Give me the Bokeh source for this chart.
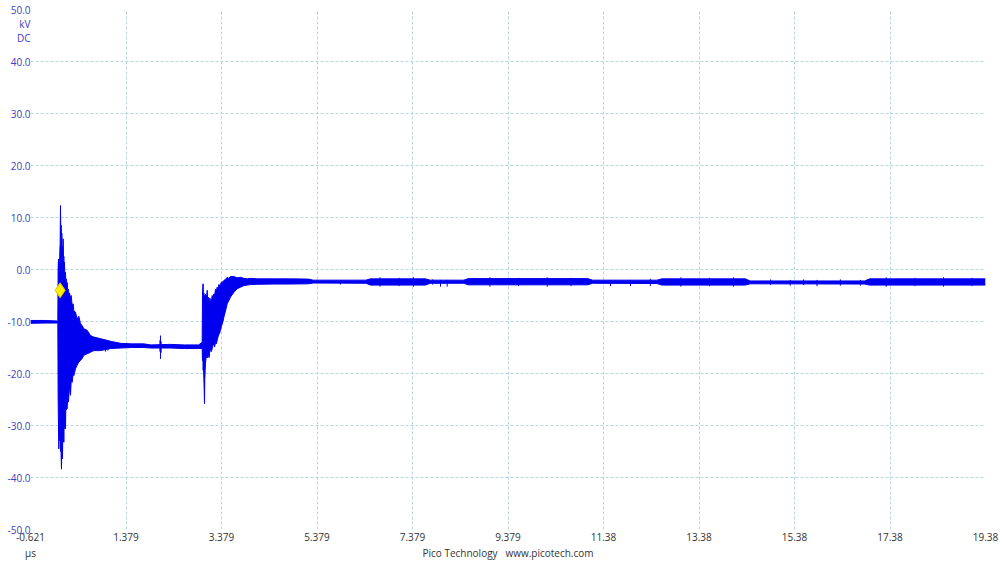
from bokeh.plotting import figure
from bokeh.models import FixedTicker, PrintfTickFormatter, ColumnDataSource, Range1d, LinearAxis
from bokeh.embed import file_html
from bokeh.resources import INLINE

# ---------------- data (time in µs, voltage in kV) ----------------
x_ticks = [-0.621, 1.379, 3.379, 5.379, 7.379, 9.379, 11.379, 13.379, 15.379, 17.379, 19.379]
x_tick_labels = ["-0.621", "1.379", "3.379", "5.379", "7.379", "9.379",
                 "11.38", "13.38", "15.38", "17.38", "19.38"]
y_ticks = [-50, -40, -30, -20, -10, 0, 10, 20, 30, 40, 50]
y_unit_pos = [47.3, 44.6]
y_unit_labels = ["kV", "DC"]
x_unit_label = "µs"
footer_text = "Pico Technology\u00a0\u00a0\u00a0www.picotech.com"

# pre-trigger baseline
pre_t = [-0.621, -0.3, -0.056]
pre_hi = [-9.8, -9.8, -9.9]
pre_lo = [-10.35, -10.3, -10.3]

# first burst (ringing after trigger)
burst_t = [-0.049, -0.042, -0.035, -0.028, -0.021, -0.014, -0.007, 0.000, 0.007, 0.014,
           0.021, 0.028, 0.035, 0.042, 0.049, 0.056, 0.063, 0.070, 0.077, 0.084,
           0.091, 0.098, 0.105, 0.112, 0.119, 0.126, 0.133, 0.147, 0.161, 0.175,
           0.182, 0.196, 0.217, 0.231, 0.252, 0.273, 0.287, 0.321, 0.356, 0.391,
           0.426, 0.461, 0.496, 0.566, 0.636, 0.705, 0.845, 1.055, 1.264]
burst_hi = [-9.8, 0.5, 2.0, -1.0, 1.5, 0.0, 3.5, 5.0, 12.3, 6.5,
            8.5, 4.0, 7.0, 3.0, 4.5, 2.0, 5.9, 1.0, 2.5, 0.0,
            1.4, -1.5, -0.5, -0.6, -2.5, -1.8, -3.0, -2.5, -4.2, -3.8,
            -5.0, -4.5, -5.5, -5.0, -6.9, -6.6, -8.0, -8.2, -9.5, -9.0,
            -10.4, -10.8, -11.4, -11.7, -12.7, -13.0, -13.3, -13.8, -14.2]
burst_lo = [-10.3, -25.0, -30.0, -34.5, -29.0, -31.0, -33.0, -30.0, -35.0, -32.0,
            -36.0, -38.4, -33.0, -35.2, -36.4, -31.0, -33.2, -30.0, -33.2, -28.0,
            -30.6, -27.0, -29.0, -30.6, -26.0, -27.0, -26.8, -26.8, -24.0, -25.5,
            -24.2, -22.6, -24.2, -21.5, -21.7, -20.0, -20.4, -19.1, -18.4, -17.8,
            -17.5, -17.1, -16.5, -16.2, -15.9, -15.6, -15.6, -15.2, -15.1]

# plateau at about -15 kV
flat_t = [1.5, 1.75, 1.9, 2.3, 2.6, 2.9]
flat_hi = [-14.3, -14.3, -14.5, -14.4, -14.5, -14.5]
flat_lo = [-15.0, -15.0, -15.1, -15.1, -15.2, -15.2]

# second burst and recovery
b2_t = [2.974, 2.981, 2.988, 2.995, 3.002, 3.009, 3.016, 3.023, 3.030, 3.037,
        3.044, 3.051, 3.058, 3.065, 3.079, 3.093, 3.107, 3.121, 3.135, 3.149,
        3.163, 3.183, 3.200, 3.218, 3.235, 3.253, 3.270, 3.288, 3.305, 3.323,
        3.340, 3.358, 3.375, 3.393, 3.410, 3.428, 3.463, 3.498, 3.532, 3.567,
        3.637, 3.707, 3.777, 3.847, 3.917, 3.986, 4.126, 4.475]
b2_hi = [-14.0, -5.0, -3.0, -2.75, -6.0, -4.5, -7.0, -5.0, -8.0, -5.5,
         -4.7, -7.0, -5.0, -6.0, -4.0, -6.5, -5.3, -7.0, -5.5, -5.96,
         -6.5, -5.0, -5.5, -4.7, -5.0, -3.8, -4.2, -3.4, -3.8, -2.9,
         -3.2, -2.75, -2.5, -2.3, -2.6, -2.1, -1.9, -1.5, -1.7, -1.35,
         -1.35, -1.6, -1.5, -1.7, -1.8, -1.7, -1.8, -1.8]
b2_lo = [-15.2, -17.5, -16.5, -19.4, -18.0, -21.0, -23.0, -25.8, -21.0, -19.4,
         -18.0, -17.5, -16.5, -17.0, -16.2, -17.0, -16.0, -16.9, -15.5, -15.6,
         -15.8, -15.25, -14.6, -14.3, -14.9, -14.0, -14.3, -13.65, -13.0, -12.5,
         -12.2, -11.7, -11.0, -10.5, -10.0, -9.2, -8.0, -6.6, -6.0, -5.3,
         -4.4, -3.7, -3.4, -3.1, -3.0, -2.9, -2.85, -2.8]

# long tail at about -2.3 kV
tail_t = [4.824, 5.2, 5.3, 6.4, 6.5, 7.65, 7.75, 8.45, 8.55, 11.05,
          11.15, 12.5, 12.6, 14.35, 14.45, 16.85, 16.95, 19.379]
tail_hi = [-1.8, -1.85, -2.05, -2.05, -1.8, -1.8, -2.05, -2.05, -1.75, -1.75,
           -2.05, -2.05, -1.8, -1.8, -2.2, -2.2, -1.8, -1.8]
tail_lo = [-2.8, -2.75, -2.6, -2.65, -3.0, -3.0, -2.65, -2.65, -2.95, -2.95,
           -2.65, -2.7, -3.0, -3.0, -2.75, -2.8, -3.0, -3.0]

# isolated glitches
spike_t = [0.95, 1.0, 2.09, 2.101, 2.115, 5.87, 7.8, 7.966, 8.105, 11.526,
           11.945, 12.36, 14.88, 15.29, 15.57, 15.85, 16.34, 16.76,
           6.7, 7.1, 7.4, 9.0, 9.6, 10.2, 10.7, 13.0, 13.6, 14.1, 17.3, 17.9, 18.5, 19.1]
spike_top = [-13.5, -13.7, -13.6, -12.7, -13.8, -2.1, -1.9, -2.0, -2.0, -2.0,
             -2.0, -1.8, -1.9, -2.0, -1.9, -2.0, -1.9, -2.0,
             -1.5, -1.6, -1.5, -1.5, -1.6, -1.5, -1.6, -1.5, -1.6, -1.5, -1.5, -1.6, -1.5, -1.6]
spike_bot = [-15.8, -15.6, -15.8, -17.2, -16.0, -2.9, -2.9, -3.3, -3.3, -3.2,
             -3.2, -3.2, -3.0, -3.1, -3.0, -3.2, -3.1, -3.1,
             -3.3, -3.2, -3.3, -3.3, -3.2, -3.3, -3.2, -3.3, -3.2, -3.3, -3.3, -3.2, -3.3, -3.2]

trigger_t = [0.0]
trigger_v = [-4.0]

# ---------------- figure ----------------
trace_color = "#0000ee"
grid_color = "#b8d5de"
ylab_color = "#4040c0"
xlab_color = "#333333"
FONT = "Open Sans"

t_all = pre_t + burst_t + flat_t + b2_t + tail_t
hi_all = pre_hi + burst_hi + flat_hi + b2_hi + tail_hi
lo_all = pre_lo + burst_lo + flat_lo + b2_lo + tail_lo
src = ColumnDataSource(dict(t=t_all, hi=hi_all, lo=lo_all))
spk = ColumnDataSource(dict(t=spike_t, top=spike_top, bot=spike_bot))

p = figure(width=1000, height=562, output_backend="svg", toolbar_location=None,
           x_range=Range1d(x_ticks[0], x_ticks[-1]), y_range=Range1d(y_ticks[0], y_ticks[-1]),
           min_border_left=30, min_border_right=15, min_border_top=9, min_border_bottom=0)
p.outline_line_color = None
p.background_fill_color = "white"
p.border_fill_color = "white"


def style_axis(ax, color):
    ax.axis_line_color = None
    ax.major_tick_line_color = None
    ax.minor_tick_line_color = None
    ax.major_tick_out = 0
    ax.major_tick_in = 0
    ax.major_label_text_font = FONT
    ax.major_label_text_font_size = "10px"
    ax.major_label_text_color = color


# x axis: numeric tick labels
p.xaxis.ticker = FixedTicker(ticks=x_ticks)
p.xaxis.major_label_overrides = {tk: lb for tk, lb in zip(x_ticks, x_tick_labels)}
style_axis(p.xaxis[0], xlab_color)
p.xaxis.major_label_standoff = 3

# y axis: values plus unit lines under the top label
p.yaxis.ticker = FixedTicker(ticks=y_ticks + y_unit_pos)
p.yaxis.formatter = PrintfTickFormatter(format="%.1f")
p.yaxis.major_label_overrides = {tk: lb for tk, lb in zip(y_unit_pos, y_unit_labels)}
style_axis(p.yaxis[0], ylab_color)
p.yaxis.major_label_standoff = 0

# second row under the x axis: unit and footer text
x_mid = (x_ticks[0] + x_ticks[-1]) / 2
foot_axis = LinearAxis(ticker=FixedTicker(ticks=[x_ticks[0], x_mid]),
                       major_label_overrides={x_ticks[0]: x_unit_label, x_mid: footer_text})
style_axis(foot_axis, xlab_color)
foot_axis.major_label_standoff = 2
p.add_layout(foot_axis, "below")

# grids only at the value ticks
p.xgrid.ticker = FixedTicker(ticks=x_ticks)
p.ygrid.ticker = FixedTicker(ticks=y_ticks)
for g in (p.xgrid[0], p.ygrid[0]):
    g.grid_line_color = grid_color
    g.grid_line_dash = "3 2"
    g.grid_line_width = 1

p.varea(x="t", y1="lo", y2="hi", source=src, fill_color=trace_color)
p.line(x="t", y="hi", source=src, line_color=trace_color, line_width=1)
p.line(x="t", y="lo", source=src, line_color=trace_color, line_width=1)
p.segment(x0="t", y0="bot", x1="t", y1="top", source=spk, line_color=trace_color, line_width=1)

p.scatter(x=trigger_t, y=trigger_v, marker="diamond", size=15,
          fill_color="#ffee00", line_color="#d8c400", line_width=1)

open("out.html", "w").write(file_html(p, INLINE))
